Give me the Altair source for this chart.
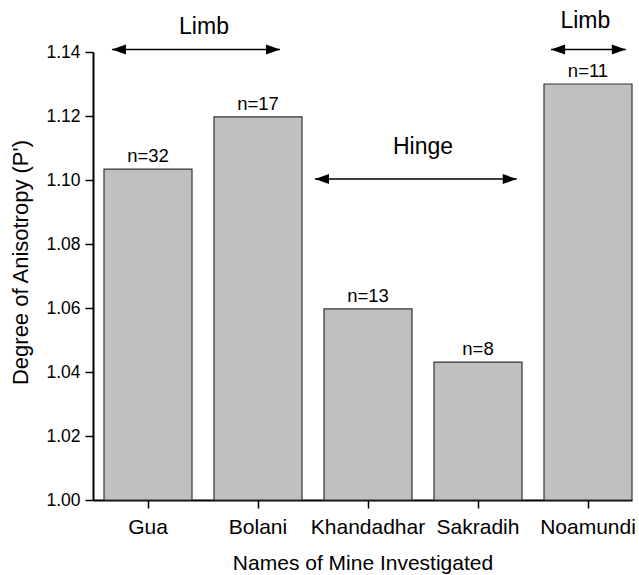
import altair as alt
import pandas as pd

# ---- data ----
mines = ["Gua", "Bolani", "Khandadhar", "Sakradih", "Noamundi"]
p_values = [1.1034, 1.1197, 1.0597, 1.0431, 1.1300]
counts = [32, 17, 13, 8, 11]

group_labels = ["Limb", "Hinge", "Limb"]
group_start = ["Gua", "Khandadhar", "Noamundi"]
group_end = ["Bolani", "Sakradih", "Noamundi"]
arrow_level = [1.1408, 1.1003, 1.1408]
label_level = [1.1478, 1.1103, 1.1497]
label_anchor = ["Gua", "Khandadhar", "Noamundi"]

y_ticks = [1.00, 1.02, 1.04, 1.06, 1.08, 1.10, 1.12, 1.14]

FONT = "Liberation Sans"

df = pd.DataFrame({"mine": mines, "p": p_values,
                   "label": [f"n={c}" for c in counts]})

x_scale = alt.Scale(domain=mines, paddingInner=0.2, paddingOuter=0.05, align=1)
y_scale = alt.Scale(domain=[1.0, 1.14], zero=False, nice=False)

x_enc = alt.X("mine:N", scale=x_scale, sort=mines,
              axis=alt.Axis(title="Names of Mine Investigated", labelAngle=0,
                            labelFontSize=21, titleFontSize=21, labelFont=FONT,
                            titleFont=FONT, labelColor="black", titleColor="black",
                            titleFontWeight="normal", domainColor="black",
                            domainWidth=2, tickColor="black", tickWidth=1.5,
                            tickSize=8, labelPadding=8, titlePadding=15))
y_enc = alt.Y("p:Q", scale=y_scale,
              axis=alt.Axis(title="Degree of Anisotropy (P')", values=y_ticks,
                            format=".2f", grid=False, labelFontSize=17.5,
                            titleFontSize=22, labelFont=FONT, titleFont=FONT,
                            labelColor="black", titleColor="black",
                            titleFontWeight="normal", domainColor="black",
                            domainWidth=2, tickColor="black", tickWidth=1.5,
                            tickSize=8, labelPadding=5, titleX=-61, titleY=210))

bars = alt.Chart(df).mark_bar(color="#c0c0c0", stroke="#333333",
                              strokeWidth=1.2).encode(
    x=x_enc, y=y_enc, y2=alt.datum(1.0))

nlabels = alt.Chart(df).mark_text(font=FONT, fontSize=18.5, dy=-13,
                                  baseline="middle", color="black").encode(
    x=alt.X("mine:N", scale=x_scale, sort=mines),
    y=alt.Y("p:Q", scale=y_scale), text="label:N")

layers = [bars, nlabels]

# arrow endpoints: (band position, pixel offset) for left and right tips
arrow_left = [(0.09, 0), (0.0, -9), (0.08, 0)]
arrow_right = [(0.75, 0), (0.94, 0), (0.93, 0)]
label_pos = [(1.0, 12), (1.0, 11), (0.47, 0)]

left_head = "M0,0 L1,-0.36 L1,0.36 Z"
right_head = "M0,0 L-1,-0.36 L-1,0.36 Z"

for i in range(len(group_labels)):
    adf = pd.DataFrame({"start": [group_start[i]], "end": [group_end[i]],
                        "lvl": [arrow_level[i]], "txt": [group_labels[i]],
                        "anchor": [label_anchor[i]], "tl": [label_level[i]]})
    bl, ol = arrow_left[i]
    br, orr = arrow_right[i]
    rule = alt.Chart(adf).mark_rule(color="black", strokeWidth=1.6,
                                    xOffset=ol, x2Offset=orr).encode(
        x=alt.X("start:N", scale=x_scale, bandPosition=bl),
        x2=alt.X2("end:N", bandPosition=br),
        y=alt.Y("lvl:Q", scale=y_scale))
    lh = alt.Chart(adf).mark_point(shape=left_head, filled=True, color="black",
                                   opacity=1, size=784, strokeWidth=0,
                                   xOffset=ol).encode(
        x=alt.X("start:N", scale=x_scale, bandPosition=bl),
        y=alt.Y("lvl:Q", scale=y_scale))
    rh = alt.Chart(adf).mark_point(shape=right_head, filled=True, color="black",
                                   opacity=1, size=784, strokeWidth=0,
                                   xOffset=orr).encode(
        x=alt.X("end:N", scale=x_scale, bandPosition=br),
        y=alt.Y("lvl:Q", scale=y_scale))
    lb, lo = label_pos[i]
    txt = alt.Chart(adf).mark_text(font=FONT, fontSize=23, baseline="middle",
                                   color="black", dx=lo).encode(
        x=alt.X("anchor:N", scale=x_scale, bandPosition=lb),
        y=alt.Y("tl:Q", scale=y_scale), text="txt:N")
    layers += [rule, lh, rh, txt]

chart = alt.layer(*layers).properties(
    width=539, height=448,
    autosize=alt.AutoSizeParams(type="none"),
    padding={"left": 93, "top": 52, "right": 7, "bottom": 75},
    background="white",
).configure_view(strokeWidth=0)

chart.save("out.html", embed_options={"renderer": "svg", "actions": False})
